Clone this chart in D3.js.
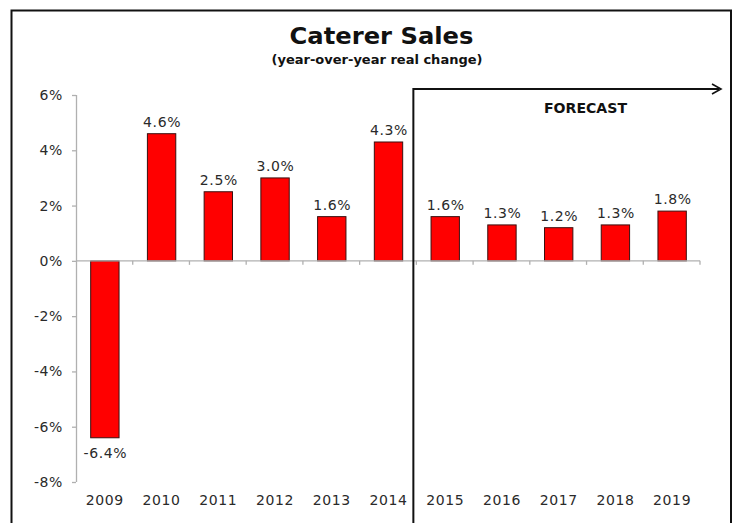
<!DOCTYPE html>
<html>
<head>
<meta charset="utf-8">
<script src="https://cdn.jsdelivr.net/npm/d3@7"></script>
<style>
  html, body { margin: 0; padding: 0; background: #fff; }
  svg { display: block; }
  text { font-family: "DejaVu Sans", Verdana, sans-serif; }
</style>
</head>
<body>
<svg id="chart" width="738" height="523"></svg>
<script>
// Caterer sales, year-over-year real change (%)
const years = ["2009", "2010", "2011", "2012", "2013", "2014", "2015", "2016", "2017", "2018", "2019"];
const change = [-6.4, 4.6, 2.5, 3.0, 1.6, 4.3, 1.6, 1.3, 1.2, 1.3, 1.8];
const yTicks = [-8, -6, -4, -2, 0, 2, 4, 6];
const firstForecastYear = "2015";

const svg = d3.select("#chart");
const W = 738, H = 523;
const plot = { left: 76, right: 700, top: 95, bottom: 482 };

// outer frame (open at the bottom edge of the page)
svg.append("path")
  .attr("d", `M11.5,${H + 5} V10.5 H731 V${H + 5}`)
  .attr("fill", "none")
  .attr("stroke", "#111")
  .attr("stroke-width", 2);

// titles
svg.append("text")
  .attr("x", 381.5).attr("y", 43.5)
  .attr("text-anchor", "middle")
  .attr("font-size", 23.5).attr("font-weight", "bold")
  .attr("fill", "#111")
  .attr("textLength", 184).attr("lengthAdjust", "spacingAndGlyphs")
  .text("Caterer Sales");

svg.append("text")
  .attr("x", 377).attr("y", 63.5)
  .attr("text-anchor", "middle")
  .attr("font-size", 12.5).attr("font-weight", "bold")
  .attr("fill", "#111")
  .attr("textLength", 211).attr("lengthAdjust", "spacingAndGlyphs")
  .text("(year-over-year real change)");

const x = d3.scaleBand()
  .domain(years)
  .range([plot.left, plot.right])
  .paddingInner(0.5)
  .paddingOuter(0.25);

const y = d3.scaleLinear()
  .domain([-8, 6])
  .range([plot.bottom, plot.top]);

const axisColor = "#b0b0b0";
const textColor = "#2a2a2a";
const labelSize = 14;
const labelSpacing = 0.6;

// y axis
const yAxis = svg.append("g")
  .attr("transform", `translate(${plot.left},0)`)
  .call(d3.axisLeft(y).tickValues(yTicks).tickSize(4).tickPadding(9)
    .tickFormat(d => d + "%"));
yAxis.select(".domain").attr("stroke", axisColor).attr("stroke-width", 1.3)
  .attr("d", `M0.5,${y(6)}V${y(-8)}`);
yAxis.selectAll(".tick line").attr("stroke", axisColor).attr("stroke-width", 1.3);
yAxis.selectAll(".tick text")
  .attr("font-size", labelSize)
  .attr("letter-spacing", labelSpacing)
  .attr("font-family", "DejaVu Sans, Verdana, sans-serif")
  .attr("fill", textColor);

// bars
svg.append("g").selectAll("rect")
  .data(years)
  .join("rect")
  .attr("x", d => x(d) + 0.5)
  .attr("width", x.bandwidth())
  .attr("y", (d, i) => y(Math.max(0, change[i])))
  .attr("height", (d, i) => Math.abs(y(change[i]) - y(0)))
  .attr("fill", "#ff0000")
  .attr("stroke", "#3a1010")
  .attr("stroke-width", 1);

// zero baseline with ticks between categories
const x0 = y(0);
svg.append("line")
  .attr("x1", plot.left).attr("x2", plot.right)
  .attr("y1", x0).attr("y2", x0)
  .attr("stroke", axisColor).attr("stroke-width", 1.3);
svg.append("g").selectAll("line")
  .data(d3.range(1, years.length + 1))
  .join("line")
  .attr("x1", i => plot.left + i * x.step())
  .attr("x2", i => plot.left + i * x.step())
  .attr("y1", x0).attr("y2", x0 + 4)
  .attr("stroke", axisColor).attr("stroke-width", 1.3);

// value labels
svg.append("g").selectAll("text")
  .data(years)
  .join("text")
  .attr("x", d => x(d) + x.bandwidth() / 2 + 1)
  .attr("y", (d, i) => change[i] >= 0 ? y(change[i]) - 7 : y(change[i]) + 20)
  .attr("text-anchor", "middle")
  .attr("font-size", labelSize)
  .attr("letter-spacing", labelSpacing)
  .attr("fill", textColor)
  .text((d, i) => change[i].toFixed(1) + "%");

// year labels along the bottom
svg.append("g").selectAll("text")
  .data(years)
  .join("text")
  .attr("x", d => x(d) + x.bandwidth() / 2 + 0.5)
  .attr("y", y(-8) + 23)
  .attr("text-anchor", "middle")
  .attr("font-size", labelSize)
  .attr("letter-spacing", labelSpacing)
  .attr("fill", textColor)
  .text(d => d);

// forecast bracket and arrow
const fx = x(firstForecastYear) - x.step() * x.paddingInner() / 2 - 3;
const fy = 89;
const arrowEnd = 721;
svg.append("path")
  .attr("d", `M${fx},${H + 5} V${fy} H${arrowEnd - 2}`)
  .attr("fill", "none")
  .attr("stroke", "#111")
  .attr("stroke-width", 2);
svg.append("path")
  .attr("d", `M${arrowEnd - 9},${fy - 5} L${arrowEnd},${fy} L${arrowEnd - 9},${fy + 5}`)
  .attr("fill", "none")
  .attr("stroke", "#111")
  .attr("stroke-width", 1.6);

svg.append("text")
  .attr("x", 585.5).attr("y", 113)
  .attr("text-anchor", "middle")
  .attr("font-size", 13.5).attr("font-weight", "bold")
  .attr("fill", "#111")
  .attr("textLength", 83).attr("lengthAdjust", "spacingAndGlyphs")
  .text("FORECAST");
</script>
</body>
</html>
